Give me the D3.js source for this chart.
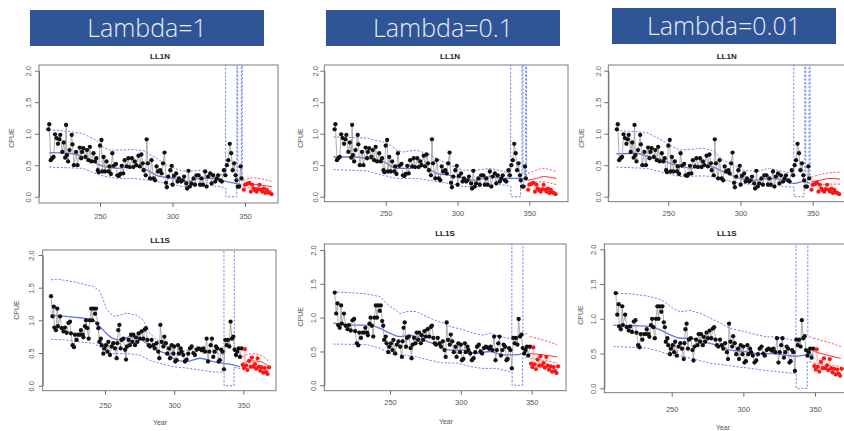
<!DOCTYPE html>
<html>
<head>
<meta charset="utf-8">
<script src="https://cdn.jsdelivr.net/npm/d3@7"></script>
<style>
  html, body { margin: 0; padding: 0; background: #fff; }
  svg { display: block; }
</style>
</head>
<body>
<svg id="chart" width="844" height="431"></svg>
<script>
// ---- labels ----
const lambdaLabels = ["Lambda=1", "Lambda=0.1", "Lambda=0.01"];
const fleetNames = ["LL1N", "LL1S"];
const xTicks = [250, 300, 350];
const yTicks = [0, 0.5, 1, 1.5, 2];

// ---- observed CPUE [year, cpue] ----
const obsN = [[214.4,1.07],[215,1.15],[216,0.58],[217,0.61],[218,0.63],[219,0.99],[220,0.93],[221,0.84],[222,0.91],[222.6,0.98],[224,0.71],[225,0.86],[226,0.62],[226.6,1.14],[227.2,0.66],[228,0.56],[229,0.74],[230.5,0.98],[231,0.83],[232,0.5],[233.5,0.71],[234.5,0.5],[236,0.78],[237,0.61],[237.6,0.71],[238.5,0.77],[240,0.63],[241,0.74],[242,0.58],[243,0.79],[244,0.56],[245.5,0.69],[246.5,0.56],[247.5,0.61],[248.5,0.42],[249.1,0.39],[250,0.81],[251,0.9],[251.6,0.4],[252.5,0.63],[253.5,0.4],[254.5,0.56],[256,0.4],[256.6,0.48],[257.5,0.36],[258.5,0.69],[259.5,0.49],[261,0.52],[262,0.34],[263,0.33],[264,0.36],[265,0.49],[266,0.37],[267,0.58],[268.5,0.48],[269.5,0.61],[270.5,0.47],[272,0.61],[273,0.47],[274,0.56],[275,0.5],[276.5,0.65],[277.5,0.48],[278.5,0.67],[279.5,0.53],[280.1,0.42],[281.5,0.34],[282.2,0.91],[283,0.53],[284.5,0.29],[285.5,0.58],[287,0.29],[288,0.26],[289,0.48],[290,0.4],[291.5,0.42],[292.5,0.37],[293.5,0.53],[294.5,0.7],[295.5,0.22],[296.1,0.15],[297,0.32],[298.5,0.42],[299.5,0.49],[300.1,0.19],[301,0.33],[302.5,0.37],[303.5,0.24],[304.5,0.29],[306,0.24],[307,0.26],[308,0.32],[309.5,0.21],[310.1,0.13],[311,0.41],[312,0.16],[313,0.21],[314.5,0.29],[315.5,0.19],[316.5,0.34],[318,0.34],[319,0.19],[320,0.29],[321,0.19],[322.5,0.4],[323.5,0.16],[324.5,0.32],[326,0.37],[327,0.21],[328,0.34],[329.5,0.24],[330.5,0.29],[331.5,0.34],[333,0.26],[334,0.24],[335.5,0.42],[336.5,0.34],[337.5,0.5],[338.5,0.58],[339.5,0.84],[340.5,0.69],[341.5,0.42],[342.5,0.53],[343.5,0.34],[344.1,0.26],[345,0.16],[346,0.16],[347,0.48],[347.6,0.29]];

const obsS = [[211,1.37],[212,1.06],[213,1.21],[213.4,0.89],[214.5,0.85],[215.5,1.18],[216,0.91],[217.5,1.06],[218.7,0.88],[220,0.83],[221,0.89],[222.3,0.81],[223.5,0.96],[224.7,0.98],[225.4,0.8],[226.6,0.62],[227.6,0.59],[228.3,0.78],[229.5,0.7],[230.7,0.78],[232,0.78],[232.6,0.85],[233.9,0.78],[234.4,0.74],[235.5,0.91],[236.3,1.0],[237.2,0.88],[238.2,0.72],[239,1.0],[240,1.18],[240.8,1.0],[241.6,1.18],[242.8,1.1],[243.5,1.18],[244.5,0.95],[245.2,0.88],[245.9,0.67],[247,0.72],[247.6,0.62],[248.8,0.49],[249.5,0.57],[250.7,0.62],[251.7,0.52],[252.4,0.67],[253.6,0.47],[254.8,0.6],[256,0.65],[257.2,0.57],[258.4,0.42],[258.9,0.65],[259.6,0.85],[260.4,0.93],[261.3,0.57],[262,0.7],[263.3,0.72],[264.5,0.55],[265.2,0.4],[266,0.6],[267,0.7],[268,0.62],[268.8,0.78],[269.8,0.67],[270.5,0.78],[271.7,0.62],[272.4,0.74],[273.4,0.67],[274.3,0.8],[275.3,0.72],[276.5,0.83],[277.7,0.72],[278.7,0.86],[279.6,0.88],[280.6,0.7],[281.6,0.62],[282.5,0.6],[283.7,0.7],[285,0.62],[286,0.57],[287.3,0.65],[288.5,0.52],[289.3,0.42],[290,0.93],[291,0.67],[292.2,0.6],[292.9,0.75],[294,0.65],[295,0.49],[296.3,0.57],[297,0.42],[298.2,0.62],[299.4,0.49],[300,0.6],[300.8,0.37],[301.8,0.39],[302.8,0.62],[303.5,0.49],[304.7,0.57],[305.4,0.52],[306.6,0.47],[307.8,0.37],[309,0.4],[310.2,0.49],[311.4,0.57],[312.7,0.6],[313.9,0.5],[315,0.47],[316.3,0.55],[317.5,0.57],[318.7,0.56],[320,0.54],[321,0.57],[322.3,0.52],[323.5,0.72],[324.5,0.37],[325.4,0.52],[326.4,0.62],[327.3,0.72],[328.3,0.44],[329.3,0.52],[330.2,0.6],[331.2,0.57],[332.2,0.37],[333,0.39],[334,0.55],[335,0.52],[336,0.25],[337,0.7],[338,0.62],[338.9,0.7],[339.9,0.6],[340.8,0.98],[341.8,0.72],[342.8,0.75],[343.7,0.55],[344.7,0.47],[345.6,0.52],[346.6,0.57],[347.6,0.44],[348.8,0.57]];

// ---- projected CPUE [year, cpue] ----
const projN = [[349.2,0.11],[350,0.19],[351,0.2],[352,0.21],[353,0.22],[354,0.08],[355,0.19],[356,0.13],[357,0.1],[358,0.08],[359,0.12],[360,0.19],[361,0.11],[362,0.08],[363,0.13],[364,0.06],[365,0.11],[366,0.07],[367,0.06],[368.3,0.04]];
const projS = [[349.5,0.32],[350.5,0.27],[351.2,0.56],[352,0.31],[353,0.24],[354.2,0.38],[355.3,0.29],[356.2,0.43],[357.2,0.29],[358.4,0.33],[359.3,0.26],[360.3,0.42],[361.2,0.29],[362.2,0.23],[363.3,0.28],[364.4,0.2],[365.5,0.27],[366.5,0.21],[367.5,0.18],[368.6,0.28]];

// ---- fitted mean and bounds, LL1N ----
const meanN_1 = [[215,0.70],[229,0.69],[241,0.61],[250,0.5],[261.5,0.45],[273,0.48],[280,0.45],[289,0.34],[300.5,0.29],[310,0.24],[319,0.29],[328,0.29],[337.5,0.24],[347.5,0.19]];
const upN_1 = [[215,1.06],[227,1.04],[238.5,1.0],[247.7,0.89],[252,0.79],[257,0.74],[264,0.74],[273,0.75],[280,0.73],[289,0.61],[296,0.5],[305,0.42],[310,0.4],[319,0.42],[328,0.37],[336.6,0.34],[336.6,4],[344.4,4],[344.4,0.3],[345,0.3],[345,4],[347.5,4],[347.5,0.25],[348.1,0.25],[348.1,4]];
const loN_1 = [[215,0.47],[238,0.45],[250,0.34],[261.5,0.29],[273,0.29],[284.5,0.26],[296,0.21],[307,0.16],[319,0.19],[333,0.16],[336.8,0.13],[336.8,0.0],[344.3,0.0],[344.3,0.15],[348.3,0.12]];
const fcMeanN_1 = [[349,0.19],[355,0.2],[362,0.18],[368.5,0.16]];
const fcUpN_1 = [[349,0.25],[355,0.3],[362,0.28],[368.5,0.24]];
const fcLoN_1 = [[349,0.14],[355,0.14],[362,0.12],[368.5,0.09]];

const meanN_01 = [[213.6,0.63],[225,0.63],[237,0.61],[248,0.56],[257.7,0.45],[267,0.45],[276,0.48],[285.5,0.37],[294.8,0.34],[304,0.29],[313,0.26],[322.6,0.32],[332,0.29],[337,0.29],[345.8,0.29],[348.5,0.26]];
const upN_01 = [[213.6,0.95],[225,0.94],[237,0.93],[248,0.87],[253,0.82],[257.7,0.74],[262,0.71],[271.6,0.74],[281,0.66],[285.5,0.61],[294.8,0.5],[304,0.42],[313,0.42],[322.6,0.45],[332,0.4],[337,0.37],[337,4],[344.9,4],[344.9,0.35],[345.6,0.35],[345.6,4],[347.4,4],[347.4,0.3],[348.1,0.3],[348.1,4]];
const loN_01 = [[213.6,0.43],[237,0.41],[248,0.34],[257.7,0.29],[271.6,0.29],[285.5,0.24],[294.8,0.21],[304,0.16],[313,0.16],[322.6,0.19],[332,0.19],[337.2,0.16],[337.2,0.0],[343.9,0.0],[343.9,0.19],[348.3,0.17]];
const fcMeanN_01 = [[349,0.26],[355,0.29],[360,0.32],[364,0.31],[369,0.29]];
const fcUpN_01 = [[349,0.37],[355,0.42],[360,0.45],[364,0.43],[369,0.4]];
const fcLoN_01 = [[349,0.21],[355,0.23],[360,0.24],[364,0.22],[369,0.19]];

const meanN_001 = [[214,0.68],[228,0.69],[237,0.63],[246.5,0.58],[251,0.53],[258,0.5],[265,0.45],[274,0.5],[281,0.47],[290.4,0.37],[299.6,0.29],[309,0.26],[320.4,0.29],[329.7,0.26],[336.6,0.21],[343.5,0.24],[348,0.21]];
const upN_001 = [[214,1.05],[228,1.03],[235,1.02],[242,0.94],[249,0.85],[253.5,0.79],[258,0.74],[265,0.75],[274,0.77],[281,0.73],[288,0.58],[295,0.5],[302,0.42],[311,0.4],[320,0.45],[329.7,0.4],[336.9,0.37],[336.9,4],[344.5,4],[344.5,0.33],[345.2,0.33],[345.2,4],[347.5,4],[347.5,0.3],[348.2,0.3],[348.2,4]];
const loN_001 = [[214,0.47],[235,0.45],[249,0.37],[258,0.32],[274,0.33],[281,0.32],[290.4,0.26],[299.6,0.21],[311,0.19],[320.4,0.21],[329.7,0.16],[337.1,0.15],[337.1,0.0],[344,0.0],[344,0.17],[348.3,0.15]];
const fcMeanN_001 = [[349,0.24],[355,0.26],[362,0.29],[369,0.28]];
const fcUpN_001 = [[349,0.31],[355,0.35],[362,0.38],[369,0.39]];
const fcLoN_001 = [[349,0.18],[355,0.19],[362,0.2],[369,0.2]];

// ---- fitted mean and bounds, LL1S ----
const meanS_1 = [[211,1.08],[222,1.06],[232,1.04],[241.6,1.0],[246.4,0.9],[251,0.8],[256,0.72],[261,0.7],[268,0.75],[275,0.72],[280,0.65],[287,0.55],[294.6,0.49],[301.8,0.39],[309,0.37],[318.7,0.42],[328.3,0.37],[335.5,0.34],[342.8,0.32],[347.6,0.29]];
const upS_1 = [[211,1.62],[215,1.63],[222,1.61],[229.5,1.58],[236.7,1.54],[241.6,1.52],[246.4,1.44],[248.8,1.31],[251,1.18],[255,1.08],[257,1.06],[261,1.08],[265.7,1.11],[273,1.08],[277.7,1.0],[282.5,0.8],[287.3,0.7],[292,0.65],[297,0.55],[301.8,0.49],[306.6,0.52],[314,0.57],[321,0.55],[328.3,0.52],[333,0.49],[336,0.47],[336,4],[343.5,4],[343.5,0.45],[348.5,0.42]];
const loS_1 = [[211,0.71],[222,0.7],[232,0.67],[241.6,0.65],[246,0.6],[251,0.52],[256,0.49],[265.7,0.49],[275,0.47],[282.5,0.39],[290,0.34],[299.4,0.29],[309,0.27],[318.7,0.24],[328.3,0.21],[333,0.21],[336.1,0.2],[336.1,0.0],[343.3,0.0],[343.3,0.28],[348.5,0.26]];
const fcMeanS_1 = [[349,0.34],[356,0.38],[362,0.37],[369,0.29]];
const fcUpS_1 = [[349,0.44],[356,0.49],[362,0.47],[369,0.36]];
const fcLoS_1 = [[349,0.26],[356,0.27],[362,0.24],[369,0.17]];

const meanS_01 = [[210,0.92],[226.5,0.89],[236,0.89],[243,0.84],[250,0.77],[257,0.72],[264,0.74],[273.5,0.67],[283,0.6],[292,0.52],[301.8,0.52],[311,0.47],[320.6,0.5],[330,0.45],[337,0.45],[344,0.47],[347,0.5]];
const upS_01 = [[210,1.38],[221.8,1.37],[233.5,1.35],[243,1.31],[247.6,1.21],[252,1.14],[257,1.06],[261.8,1.09],[268.8,1.09],[273.5,1.04],[280.6,0.97],[287.6,0.92],[292,0.87],[301.8,0.82],[309,0.77],[315.8,0.74],[320.6,0.77],[327.6,0.72],[334.7,0.69],[336,0.68],[336,4],[343.8,4],[343.8,0.74],[347.5,0.77]];
const loS_01 = [[210,0.61],[233.5,0.6],[243,0.55],[250,0.47],[259,0.45],[268.8,0.42],[278,0.37],[287,0.33],[297,0.33],[306,0.28],[315,0.25],[325,0.25],[334.7,0.2],[336.2,0.19],[336.2,0.0],[343.5,0.0],[343.5,0.4],[347.5,0.42]];
const fcMeanS_01 = [[348.5,0.47],[358,0.45],[368,0.42]];
const fcUpS_01 = [[349,0.72],[358,0.67],[368,0.6]];
const fcLoS_01 = [[349,0.4],[358,0.37],[368,0.33]];

const meanS_001 = [[209.3,0.91],[225.6,0.9],[235,0.89],[242,0.84],[249,0.77],[256,0.72],[262.8,0.72],[272,0.67],[281.4,0.62],[290.7,0.55],[300,0.53],[309.3,0.5],[318.6,0.5],[328,0.48],[337,0.46],[344,0.48],[349,0.48]];
const upS_001 = [[209.3,1.37],[221,1.36],[232.6,1.33],[242,1.28],[246.5,1.22],[251,1.15],[256,1.1],[262.8,1.12],[269.8,1.08],[276.7,1.01],[283.7,0.94],[290.7,0.86],[300,0.82],[309.3,0.77],[316.3,0.74],[323.3,0.74],[332.6,0.7],[336.7,0.69],[336.7,4],[345,4],[345,0.75],[349,0.72]];
const loS_001 = [[209.3,0.6],[232.6,0.58],[242,0.53],[249,0.48],[258,0.46],[267.4,0.41],[276.7,0.36],[286,0.34],[295,0.31],[304,0.29],[314,0.26],[323,0.24],[332.6,0.22],[336.9,0.21],[336.9,0.0],[344.6,0.0],[344.6,0.38],[349,0.38]];
const fcMeanS_001 = [[349,0.53],[358,0.48],[368,0.43]];
const fcUpS_001 = [[349,0.72],[358,0.67],[368,0.6]];
const fcLoS_001 = [[349,0.36],[358,0.34],[368,0.31]];

// grouped per fleet and lambda
const fits = [
  [ // LL1N
    {mean: meanN_1,   up: upN_1,   lo: loN_1,   fm: fcMeanN_1,   fu: fcUpN_1,   fl: fcLoN_1},
    {mean: meanN_01,  up: upN_01,  lo: loN_01,  fm: fcMeanN_01,  fu: fcUpN_01,  fl: fcLoN_01},
    {mean: meanN_001, up: upN_001, lo: loN_001, fm: fcMeanN_001, fu: fcUpN_001, fl: fcLoN_001}
  ],
  [ // LL1S
    {mean: meanS_1,   up: upS_1,   lo: loS_1,   fm: fcMeanS_1,   fu: fcUpS_1,   fl: fcLoS_1},
    {mean: meanS_01,  up: upS_01,  lo: loS_01,  fm: fcMeanS_01,  fu: fcUpS_01,  fl: fcLoS_01},
    {mean: meanS_001, up: upS_001, lo: loS_001, fm: fcMeanS_001, fu: fcUpS_001, fl: fcLoS_001}
  ]
];
const observed = [obsN, obsS];
const projected = [projN, projS];

// ---- layout ----
const headers = [
  {x: 30,  y: 10, w: 234, h: 36},
  {x: 326, y: 10, w: 234, h: 36},
  {x: 612, y: 8,  w: 224, h: 36}
];
const panels = [
  {f:0, l:0, box:{l:39,    r:278, t:65,  b:203},   xr:[100,245],     yr:[196.7,70.7], title:[160,56],     yLabX:28,    cpue:[11.7,138], xLabY:216.7, year:null},
  {f:1, l:0, box:{l:42.7,  r:276, t:250, b:390.7}, xr:[105,243.3],   yr:[385.7,255],  title:[160,240],    yLabX:31.7,  cpue:[16.7,310], xLabY:405,   year:[160,423]},
  {f:0, l:1, box:{l:324.3, r:568, t:65,  b:201.7}, xr:[385.7,529.3], yr:[196.7,70.7], title:[450,56],     yLabX:315,   cpue:[300,138],  xLabY:213.3, year:null},
  {f:1, l:1, box:{l:324.3, r:566, t:244, b:390.7}, xr:[390,531.7],   yr:[385.3,250],  title:[445,233],    yLabX:313.3, cpue:[300,316.7],xLabY:402.7, year:[446,421.7]},
  {f:0, l:2, box:{l:608.3, r:852, t:65,  b:201.7}, xr:[668.3,812.7], yr:[196.7,70.7], title:[726.7,56],   yLabX:598,   cpue:[581.7,138],xLabY:213.3, year:null},
  {f:1, l:2, box:{l:604.3, r:852, t:244, b:392.7}, xr:[671.7,815],   yr:[388.3,249.3],title:[726.7,233.3],yLabX:593,   cpue:[580,315],  xLabY:409,   year:[723,428]}
];

const svg = d3.select("#chart");
const font = "'Liberation Sans', Arial, sans-serif";

// header banners
const hdr = svg.append("g");
headers.forEach((h, i) => {
  hdr.append("rect").attr("x", h.x).attr("y", h.y).attr("width", h.w).attr("height", h.h)
    .attr("fill", "#2f5597");
  hdr.append("text").attr("x", h.x + h.w / 2).attr("y", h.y + h.h / 2)
    .attr("dy", "0.36em").attr("text-anchor", "middle")
    .attr("font-family", "'Open Sans', sans-serif")
    .attr("font-weight", 300).attr("font-size", 25).attr("fill", "#e8ecf6")
    .text(lambdaLabels[i]);
});

panels.forEach((p, pi) => {
  const fit = fits[p.f][p.l];
  const x = d3.scaleLinear().domain([250, 350]).range(p.xr);
  const y = d3.scaleLinear().domain([0, 2]).range(p.yr);
  const g = svg.append("g");

  const clipId = "clip" + pi;
  svg.append("clipPath").attr("id", clipId).append("rect")
    .attr("x", p.box.l).attr("y", p.box.t)
    .attr("width", p.box.r - p.box.l).attr("height", p.box.b - p.box.t);

  const plot = g.append("g").attr("clip-path", `url(#${clipId})`);
  const smooth = d3.line().x(d => x(d[0])).y(d => y(d[1])).curve(d3.curveMonotoneX);
  const segs = d3.line().x(d => x(d[0])).y(d => y(d[1]));

  // bounds (blue dashed) and fitted mean (blue)
  [fit.up, fit.lo].forEach(arr => {
    plot.append("path").attr("d", segs(arr)).attr("fill", "none")
      .attr("stroke", "#7482f4").attr("stroke-width", 1)
      .attr("stroke-dasharray", "2.2,1.6");
  });
  plot.append("path").attr("d", smooth(fit.mean)).attr("fill", "none")
    .attr("stroke", "#4a5ce8").attr("stroke-width", 1.3).attr("opacity", 0.85);

  // projection (red)
  [fit.fu, fit.fl].forEach(arr => {
    plot.append("path").attr("d", smooth(arr)).attr("fill", "none")
      .attr("stroke", "#ff4a4a").attr("stroke-width", 0.9)
      .attr("stroke-dasharray", "2.2,1.6");
  });
  plot.append("path").attr("d", smooth(fit.fm)).attr("fill", "none")
    .attr("stroke", "#ff3030").attr("stroke-width", 1);

  // observed series line + points
  const obs = observed[p.f];
  plot.append("path").attr("d", segs(obs)).attr("fill", "none")
    .attr("stroke", "#9a9a9a").attr("stroke-width", 0.8);
  plot.append("g").selectAll("circle").data(obs).join("circle")
    .attr("cx", d => x(d[0])).attr("cy", d => y(d[1])).attr("r", 2.15)
    .attr("fill", "#111");

  const proj = projected[p.f];
  plot.append("path").attr("d", segs(proj)).attr("fill", "none")
    .attr("stroke", "#ff9090").attr("stroke-width", 0.5);
  plot.append("g").selectAll("circle").data(proj).join("circle")
    .attr("cx", d => x(d[0])).attr("cy", d => y(d[1])).attr("r", 2.1)
    .attr("fill", "#ff1414");

  // frame
  g.append("rect").attr("x", p.box.l).attr("y", p.box.t)
    .attr("width", p.box.r - p.box.l).attr("height", p.box.b - p.box.t)
    .attr("fill", "none").attr("stroke", "#6e6e6e").attr("stroke-width", 0.9);

  // y axis
  const ya = g.append("g").attr("transform", `translate(${p.box.l},0)`)
    .call(d3.axisLeft(y).tickValues(yTicks).tickFormat(d3.format(".1f")).tickSize(4).tickSizeOuter(0));
  ya.select(".domain").attr("stroke", "#6e6e6e");
  ya.selectAll(".tick line").attr("stroke", "#6e6e6e");
  ya.selectAll(".tick text")
    .attr("x", 0).attr("dy", 0)
    .attr("transform", `translate(${p.yLabX - p.box.l + 2.7},0) rotate(-90)`)
    .attr("text-anchor", "middle").attr("font-family", font)
    .attr("font-size", 7.5).attr("fill", "#555");

  // x axis
  const xa = g.append("g").attr("transform", `translate(0,${p.box.b})`)
    .call(d3.axisBottom(x).tickValues(xTicks).tickFormat(d3.format("d")).tickSize(4).tickSizeOuter(0));
  xa.select(".domain").remove();
  xa.selectAll(".tick line").attr("stroke", "#6e6e6e");
  xa.selectAll(".tick text").attr("y", p.xLabY - p.box.b).attr("dy", "0.35em")
    .attr("font-family", font).attr("font-size", 7.5).attr("fill", "#555");

  // titles and axis labels
  g.append("text").attr("x", p.title[0]).attr("y", p.title[1]).attr("dy", "0.35em")
    .attr("text-anchor", "middle").attr("font-family", font).attr("font-weight", "bold")
    .attr("font-size", 8).attr("fill", "#222").text(fleetNames[p.f]);
  g.append("text").attr("transform", `translate(${p.cpue[0] + 2.5},${p.cpue[1]}) rotate(-90)`)
    .attr("text-anchor", "middle").attr("font-family", font)
    .attr("font-size", 7).attr("fill", "#555").text("CPUE");
  if (p.year) {
    g.append("text").attr("x", p.year[0]).attr("y", p.year[1]).attr("dy", "0.35em")
      .attr("text-anchor", "middle").attr("font-family", font)
      .attr("font-size", 7).attr("fill", "#555").text("Year");
  }
});
</script>
</body>
</html>
